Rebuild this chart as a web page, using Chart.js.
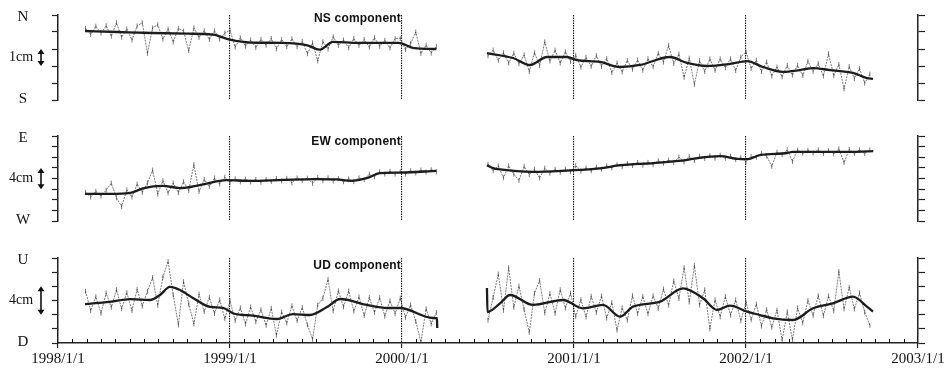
<!DOCTYPE html>
<html>
<head>
<meta charset="utf-8">
<script src="https://cdn.jsdelivr.net/npm/chart.js@4.4.0/dist/chart.umd.min.js"></script>
<style>
  body { margin: 0; background: #fff; }
  #wrap { position: relative; width: 948px; height: 371px; }
  #wrap canvas { position: absolute; left: 0; }
</style>
</head>
<body>
<div id="wrap">
  <canvas id="ns" width="948" height="120" style="top:0px"></canvas>
  <canvas id="ew" width="948" height="120" style="top:120px"></canvas>
  <canvas id="ud" width="948" height="131" style="top:240px"></canvas>
</div>
<script>
// x axis: decimal years, labelled at each 1 Jan
const yearLabels = ['1998/1/1', '1999/1/1', '2000/1/1', '2001/1/1', '2002/1/1', '2003/1/1'];

// raw series are sampled every rawStep years from the start of each segment
const rawStartA = 1998.16;
const rawStartB = 2000.50;
const rawStep = 0.03;

// NS component (cm)
const nsTrendA = [[1998.157,4.06],[1998.35,4.0],[1998.55,3.94],[1998.75,3.9],[1998.9,3.85],[1999.0,3.55],[1999.12,3.38],[1999.3,3.36],[1999.45,3.22],[1999.52,2.96],[1999.6,3.42],[1999.75,3.36],[1999.98,3.36],[2000.07,3.05],[2000.2,3.0]];
const nsTrendB = [[2000.494,2.76],[2000.645,2.47],[2000.744,2.06],[2000.843,2.53],[2000.959,2.53],[2001.017,2.35],[2001.151,2.24],[2001.267,1.94],[2001.384,2.06],[2001.558,2.53],[2001.657,2.18],[2001.773,2.0],[2001.907,2.12],[2002.006,2.29],[2002.099,1.94],[2002.215,1.65],[2002.314,1.76],[2002.39,1.88],[2002.488,1.76],[2002.622,1.59],[2002.703,1.29],[2002.738,1.24]];
const nsRawA = [4.21,3.85,4.34,3.93,4.37,3.75,4.55,3.69,4.18,3.52,4.36,4.55,2.74,4.24,4.43,3.58,4.17,3.41,4.21,4.05,2.90,4.24,3.68,4.07,3.56,4.07,3.58,3.94,4.10,3.11,3.66,3.17,3.53,3.08,3.57,3.22,3.62,3.01,3.56,3.13,3.60,3.13,3.45,2.72,3.36,2.30,3.43,3.00,3.72,3.21,3.53,3.07,3.62,3.21,3.56,3.11,3.66,3.16,3.51,3.06,3.61,3.63,2.97,3.32,4.00,2.74,3.23,2.76,3.15];
const nsRawB = [2.60,2.94,2.33,2.78,2.17,2.75,2.13,2.65,1.68,2.78,2.03,3.42,2.28,2.93,2.18,2.83,2.26,2.62,1.93,2.51,1.98,2.61,1.97,2.44,1.61,2.18,1.65,2.33,1.81,2.35,1.75,2.43,1.96,2.75,2.23,3.21,2.15,2.70,1.34,2.46,0.92,2.32,1.67,2.42,1.74,2.42,1.90,2.43,1.73,2.53,2.83,1.85,2.34,1.67,2.24,1.41,1.94,1.36,2.03,1.46,2.04,1.44,2.28,1.68,2.14,1.41,2.72,1.43,2.09,0.66,1.97,1.26,1.85,0.99,1.52];

// EW component (cm)
const ewTrendA = [[1998.157,5.1],[1998.3,5.1],[1998.42,5.3],[1998.5,6.2],[1998.61,6.6],[1998.71,6.2],[1998.83,6.8],[1998.98,7.7],[1999.12,7.55],[1999.31,7.75],[1999.5,7.9],[1999.62,7.85],[1999.7,7.55],[1999.8,8.1],[1999.87,9.0],[1999.99,9.1],[2000.2,9.45]];
const ewTrendB = [[2000.494,10.5],[2000.53,9.95],[2000.57,9.7],[2000.76,9.25],[2000.96,9.5],[2001.15,9.9],[2001.27,10.5],[2001.46,10.9],[2001.66,11.5],[2001.72,11.85],[2001.85,12.2],[2001.95,11.7],[2002.01,11.65],[2002.08,12.4],[2002.24,12.8],[2002.27,13.0],[2002.43,13.0],[2002.62,13.0],[2002.74,13.15]];
const ewRawA = [5.4,4.5,5.6,4.7,5.8,7.12,4.37,2.72,5.87,4.51,6.95,5.39,7.17,9.58,5.09,7.6,5.28,7.16,5.34,7.4,5.75,10.6,5.55,7.82,6.5,8.08,6.96,8.24,7.28,7.95,7.36,7.88,7.35,7.83,7.31,7.84,7.43,8.01,7.54,8.02,7.19,8.11,7.59,8.06,7.08,8.2,7.58,8.12,7.51,8.01,7.4,7.94,7.41,8.12,7.79,8.83,8.31,9.25,8.83,9.35,8.83,9.3,8.85,9.45,9.05,9.6,9.2,9.65,9.25];
const ewRawB = [10.7,9.45,10.36,8.15,10.38,8.81,7.64,10.27,8.7,9.76,8.1,9.94,8.98,9.76,9.15,9.79,9.29,10.41,9.37,9.98,9.45,10.16,9.75,10.4,10.0,10.6,10.22,10.83,10.45,11.01,10.52,11.04,10.6,11.34,10.88,11.47,11.01,12.05,11.14,12.16,11.38,12.18,11.76,12.29,11.82,12.4,11.8,12.2,11.55,11.93,11.16,12.16,11.99,12.73,12.25,10.28,12.95,12.48,13.4,11.2,13.35,12.75,13.3,12.8,13.4,12.7,13.25,12.65,13.6,11.0,13.5,12.71,13.4,12.69,13.37];

// UD component (cm)
const udTrendA = [[1998.157,5.5],[1998.3,5.8],[1998.42,6.2],[1998.535,6.07],[1998.593,6.78],[1998.651,7.91],[1998.709,7.48],[1998.785,6.35],[1998.884,5.1],[1998.959,4.97],[1999.017,4.2],[1999.134,3.85],[1999.273,3.39],[1999.366,4.09],[1999.465,3.95],[1999.564,5.08],[1999.64,6.21],[1999.797,5.37],[1999.913,4.94],[1999.988,4.94],[2000.18,3.53],[2000.203,3.5],[2000.205,2.12]];
const udTrendB = [[2000.494,7.77],[2000.497,4.38],[2000.57,5.6],[2000.628,6.78],[2000.762,5.37],[2000.936,6.07],[2001.052,4.9],[2001.169,5.37],[2001.267,3.72],[2001.343,5.13],[2001.5,5.84],[2001.634,7.72],[2001.75,6.31],[2001.831,4.66],[2001.907,5.27],[2002.006,4.42],[2002.081,3.95],[2002.157,3.48],[2002.273,3.25],[2002.39,4.9],[2002.506,5.6],[2002.622,6.54],[2002.703,5.13],[2002.738,4.42]];
const udRawA = [7.31,4.57,6.53,4.19,7.06,5.03,7.53,4.83,7.13,4.59,7.56,5.22,7.29,9.25,5.32,9.31,11.5,6.77,2.55,8.67,5.52,2.69,6.91,4.43,6.45,4.16,6.1,3.43,5.93,3.16,4.97,2.68,5.09,3.0,4.7,2.5,4.9,1.1,4.39,2.82,5.25,3.16,5.01,2.57,0.52,5.36,6.31,8.97,4.52,7.36,5.1,7.34,4.48,6.52,3.86,6.42,4.31,6.4,3.79,5.94,4.14,6.33,3.59,5.37,3.06,0.14,4.82,2.7,4.3];
const udRawB = [3.23,6.43,9.73,4.61,10.62,5.05,8.03,4.72,1.5,7.0,8.82,4.24,6.97,4.19,7.51,4.93,7.03,3.72,6.12,3.67,6.59,4.31,6.63,3.52,5.71,1.81,4.96,3.22,6.68,4.15,6.58,4.12,6.66,4.89,7.62,5.34,8.76,6.28,10.65,5.78,10.92,5.35,7.51,2.0,6.08,3.71,6.55,3.94,6.09,3.13,5.77,3.27,5.48,2.39,4.71,2.22,4.64,0.38,4.41,0.45,4.93,2.85,5.98,3.9,6.68,3.86,6.64,4.53,10.07,4.81,7.86,4.8,7.08,4.36,2.5];

function rawPoints(values, start) {
  return values.map((v, i) => ({ x: start + i * rawStep, y: v }));
}
function trendPoints(pairs) {
  return pairs.map(p => ({ x: p[0], y: p[1] }));
}

// side letters, scale arrow, panel title, month ticks
const panelDecor = {
  id: 'panelDecor',
  afterDraw(chart, args, o) {
    const ctx = chart.ctx;
    const area = chart.chartArea;
    const xs = chart.scales.x, ys = chart.scales.y;
    ctx.save();
    ctx.fillStyle = '#111';
    ctx.strokeStyle = '#111';
    ctx.textAlign = 'center';
    ctx.textBaseline = 'middle';

    ctx.font = '15px "Liberation Serif"';
    ctx.fillText(o.top, 23, area.top + 2);
    ctx.fillText(o.bottom, 23, area.bottom - 1);

    const a0 = ys.getPixelForValue(o.arrow[0]);
    const a1 = ys.getPixelForValue(o.arrow[1]);
    ctx.font = '14px "Liberation Serif"';
    ctx.fillText(o.unit, 21, (a0 + a1) / 2);

    const ax = 41;
    ctx.lineWidth = 1.6;
    ctx.beginPath();
    ctx.moveTo(ax, a1 + 3);
    ctx.lineTo(ax, a0 - 3);
    ctx.stroke();
    ctx.beginPath();
    ctx.moveTo(ax, a1); ctx.lineTo(ax - 3.5, a1 + 5); ctx.lineTo(ax + 3.5, a1 + 5); ctx.closePath();
    ctx.moveTo(ax, a0); ctx.lineTo(ax - 3.5, a0 - 5); ctx.lineTo(ax + 3.5, a0 - 5); ctx.closePath();
    ctx.fill();

    ctx.font = 'bold 12px "Liberation Sans"';
    ctx.letterSpacing = '0.2px';
    ctx.textAlign = 'right';
    ctx.fillText(o.title, xs.getPixelForValue(2000) - 1, area.top + o.titleDy);
    ctx.letterSpacing = '0px';

    if (o.months) {
      ctx.lineWidth = 1;
      ctx.beginPath();
      for (let m = 1; m < 60; m++) {
        if (m % 12 === 0) continue;
        const px = Math.round(xs.getPixelForValue(1998 + m / 12)) + 0.5;
        ctx.moveTo(px, area.bottom);
        ctx.lineTo(px, area.bottom - 4);
      }
      ctx.stroke();
    }
    ctx.restore();
  }
};

function makePanel(id, p) {
  const yAxis = (pos, width, tick) => ({
    position: pos,
    min: 0,
    max: p.yMax,
    afterFit: s => { s.width = width; },
    ticks: { display: false, stepSize: p.yStep },
    grid: { drawOnChartArea: false, drawTicks: true, tickLength: tick, tickColor: '#222', tickWidth: 1.2 },
    border: { display: true, color: '#222', width: 1.5 }
  });

  // raw readings: thin dotted trace with a short vertical tick at each reading
  const rawStyle = {
    borderColor: 'rgba(60,60,60,0.85)',
    borderWidth: 0.8,
    borderDash: [2, 1],
    tension: 0,
    pointStyle: 'line',
    pointRotation: 90,
    pointRadius: 2.5,
    pointBorderWidth: 0.8,
    pointBorderColor: 'rgba(50,50,50,0.8)',
    order: 1
  };
  const trendStyle = { borderColor: '#1c1c1c', borderWidth: 2.3, cubicInterpolationMode: 'monotone', pointRadius: 0, order: 0 };

  return new Chart(document.getElementById(id), {
    type: 'line',
    data: {
      datasets: [
        Object.assign({ data: trendPoints(p.trendA) }, trendStyle),
        Object.assign({ data: trendPoints(p.trendB) }, trendStyle),
        Object.assign({ data: rawPoints(p.rawA, rawStartA) }, rawStyle),
        Object.assign({ data: rawPoints(p.rawB, rawStartB) }, rawStyle)
      ]
    },
    options: {
      responsive: false,
      animation: false,
      layout: { padding: { top: p.padTop, bottom: p.padBottom, left: 0, right: 0 } },
      elements: { line: { fill: false } },
      plugins: {
        legend: { display: false },
        tooltip: { enabled: false },
        panelDecor: p.decor
      },
      scales: {
        x: {
          type: 'linear',
          min: 1998,
          max: 2003,
          afterFit: s => { s.height = p.axisHeight; },
          ticks: {
            display: p.showAxis,
            stepSize: 1,
            autoSkip: false,
            maxRotation: 0,
            padding: 2,
            color: '#111',
            font: { family: 'Liberation Serif', size: 15 },
            callback: v => yearLabels[Math.round(v) - 1998]
          },
          grid: {
            color: c => (c.tick && c.tick.value > 1998 && c.tick.value < 2003) ? '#1a1a1a' : 'rgba(0,0,0,0)',
            lineWidth: 1.1,
            drawTicks: p.showAxis,
            tickLength: 5,
            tickColor: '#222',
            tickWidth: 1.2,
            tickBorderDash: []
          },
          border: { display: p.showAxis, color: '#222', width: 1.5, dash: [1.5, 1] }
        },
        y: yAxis('left', 58, 6),
        y2: yAxis('right', 30, 7)
      }
    },
    plugins: [panelDecor]
  });
}

makePanel('ns', {
  trendA: nsTrendA, trendB: nsTrendB, rawA: nsRawA, rawB: nsRawB,
  yMax: 5, yStep: 1, padTop: 15, padBottom: 20, axisHeight: 0, showAxis: false,
  decor: { top: 'N', bottom: 'S', unit: '1cm', arrow: [2, 3], title: 'NS component', titleDy: 4, months: false }
});
makePanel('ew', {
  trendA: ewTrendA, trendB: ewTrendB, rawA: ewRawA, rawB: ewRawB,
  yMax: 16, yStep: 2, padTop: 16, padBottom: 19, axisHeight: 0, showAxis: false,
  decor: { top: 'E', bottom: 'W', unit: '4cm', arrow: [6, 10], title: 'EW component', titleDy: 6, months: false }
});
makePanel('ud', {
  trendA: udTrendA, trendB: udTrendB, rawA: udRawA, rawB: udRawB,
  yMax: 12, yStep: 2, padTop: 18, padBottom: 0, axisHeight: 28, showAxis: true,
  decor: { top: 'U', bottom: 'D', unit: '4cm', arrow: [4, 8], title: 'UD component', titleDy: 8, months: true }
});
</script>
</body>
</html>
